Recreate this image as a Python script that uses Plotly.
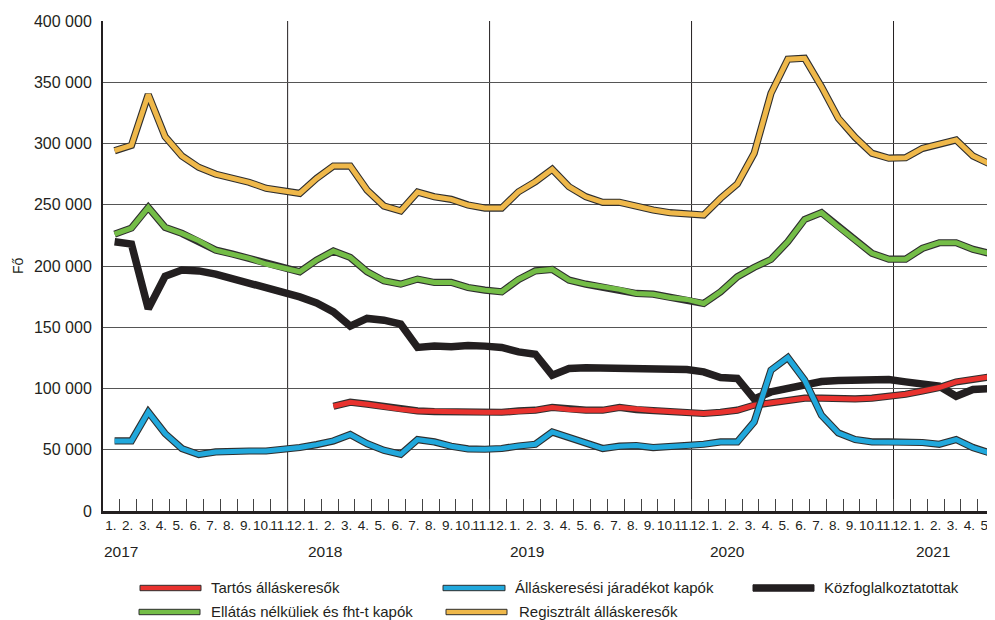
import plotly.graph_objects as go

# ---------------- data ----------------
month_labels = [f"{m}." for m in range(1, 13)] * 4 + [f"{m}." for m in range(1, 6)]
year_labels = ["2017", "2018", "2019", "2020", "2021"]
y_tick_values = [0, 50000, 100000, 150000, 200000, 250000, 300000, 350000, 400000]
y_tick_labels = ["0", "50 000", "100 000", "150 000", "200 000", "250 000", "300 000", "350 000", "400 000"]

regisztralt = [294100, 298500, 340000, 305600, 289800, 280500, 275000, 272000, 268300, 263400, 261000, 259300,
               271500, 281600, 281600, 262000, 249000, 245000, 260400, 256500, 254400, 249800, 247300, 247300,
               260600, 268800, 279000, 264700, 256500, 252000, 252000, 248400, 245700, 243500, 243000, 241600,
               255200, 267000, 292000, 341000, 368800, 369600, 346400, 320600, 305000, 292000, 288000, 288400,
               296000, 299600, 302900, 289800, 283300]
ellatas_nelkuliek = [226000, 231000, 247900, 231500, 226600, 220600, 213000, 209700, 206200, 201600, 198300, 195300,
                     204800, 212200, 207000, 195300, 187900, 185200, 189300, 186600, 186600, 182500, 180300, 178900,
                     189000, 196000, 197200, 188500, 185200, 183000, 180900, 177600, 177000, 174300, 172700, 169400,
                     178900, 191200, 198900, 205400, 219800, 238000, 243500, 232000, 221200, 210300, 205600, 205600,
                     214400, 219000, 219000, 213600, 210300]
kozfoglalkoztatottak = [219800, 217900, 165000, 191700, 196700, 196000, 193400, 189900, 185800, 182500, 178100, 174800,
                        169900, 162600, 150900, 157200, 155800, 152500, 133500, 134600, 134000, 135100, 134600, 133500,
                        129900, 128000, 110900, 116300, 116900, 116900, 115500, 115500, 116000, 116300, 115500, 113600,
                        109000, 108200, 91500, 97200, 100000, 102700, 105700, 106500, 106800, 107600, 107300, 105400,
                        102900, 101900, 93700, 99200, 100000]
tartos = [None] * 13 + [85500, 88800, 87200, 85000, 83100, 81700, 81200, 81000, 80600, 80600, 80600,
                        81700, 82300, 84500, 82800, 82300, 82300, 84500, 82800, 82000, 81200, 80100, 79600,
                        80600, 82300, 86400, 88600, 90400, 92100, 92100, 91500, 91500, 92100, 93200, 95300,
                        98000, 100800, 105400, 107800, 109500]
jaradek = [57200, 57200, 80900, 63200, 51000, 46100, 48200, 49000, 49000, 49000, 50100, 51800,
           54200, 57200, 62400, 55000, 49600, 46300, 58300, 56400, 52900, 50700, 50400, 51000,
           53100, 54500, 64500, 60000, 55600, 51000, 52900, 53400, 51800, 52300, 53400, 54500,
           56400, 56400, 72700, 115000, 125300, 106800, 78200, 63700, 58300, 56400, 56400, 56600,
           55900, 54500, 58300, 51800, 47400]

names = {
    "tartos": "Tartós álláskeresők",
    "jaradek": "Álláskeresési járadékot kapók",
    "kozf": "Közfoglalkoztatottak",
    "ellatas": "Ellátás nélküliek és fht-t kapók",
    "regisztralt": "Regisztrált álláskeresők",
}
colors = {
    "tartos": "#E8322E",
    "jaradek": "#21A8DC",
    "kozf": "#231F20",
    "ellatas": "#74BD47",
    "regisztralt": "#EFB84A",
}
series = {
    "tartos": tartos,
    "jaradek": jaradek,
    "kozf": kozfoglalkoztatottak,
    "ellatas": ellatas_nelkuliek,
    "regisztralt": regisztralt,
}

x = list(range(len(month_labels)))

# ---------------- layout geometry ----------------
OFF = 8                      # default page body margin around the figure
W, H = 995 - OFF, 620 - OFF
L, R, T, B = 103 - OFF, 1, 21 - OFF, 109
pw, ph = W - L - R, H - T - B


def px(xp):
    """page pixel x -> paper x"""
    return (xp - OFF - L) / pw


def py(yp):
    """page pixel y -> paper y"""
    return (OFF + H - B - yp) / ph


FONT = "Liberation Sans, Arial, sans-serif"
INK = "#231F20"
OUTLINE = "#2e2e2e"

fig = go.Figure()

for key in ["kozf", "tartos", "ellatas", "regisztralt", "jaradek"]:
    if key == "kozf":
        fig.add_trace(go.Scatter(x=x, y=series[key], mode="lines", name=names[key],
                                 line=dict(color=colors[key], width=7.5), showlegend=False,
                                 hoverinfo="skip"))
    else:
        fig.add_trace(go.Scatter(x=x, y=series[key], mode="lines", name=names[key] + " ",
                                 line=dict(color=OUTLINE, width=7.2), showlegend=False,
                                 hoverinfo="skip"))
        fig.add_trace(go.Scatter(x=x, y=series[key], mode="lines", name=names[key],
                                 line=dict(color=colors[key], width=5), showlegend=False))

shapes = []
# year separator gridlines
for k in range(4):
    xv = 10.28 + 12 * k
    shapes.append(dict(type="line", xref="x", yref="paper", x0=xv, x1=xv, y0=0, y1=1,
                       line=dict(color=INK, width=1), layer="below"))

# manual legend
legend_items = [
    ("tartos", 140, 201, 209, 587),
    ("jaradek", 443, 505, 513, 587),
    ("kozf", 753, 814, 822, 587),
    ("ellatas", 139, 200, 209, 611),
    ("regisztralt", 446, 507, 517, 611),
]
annotations = []
for key, x0, x1, xt, yc in legend_items:
    hh = 3.2 if key == "kozf" else 2.7
    shapes.append(dict(type="rect", xref="paper", yref="paper",
                       x0=px(x0), x1=px(x1), y0=py(yc + 1 + hh), y1=py(yc + 1 - hh),
                       fillcolor=colors[key],
                       line=dict(color=OUTLINE if key != "kozf" else colors[key], width=1)))
    annotations.append(dict(text=names[key], xref="paper", yref="paper", x=px(xt), y=py(yc),
                            xanchor="left", yanchor="middle", showarrow=False,
                            font=dict(family=FONT, size=15, color=INK)))

# year labels
year_pos = [0.4, 12.5, 24.5, 36.4, 48.6]
for lbl, xv in zip(year_labels, year_pos):
    annotations.append(dict(text=lbl, xref="x", yref="paper", x=xv, y=py(551.5),
                            xanchor="center", yanchor="middle", showarrow=False,
                            font=dict(family=FONT, size=15.5, color=INK)))

# y-axis title
annotations.append(dict(text="Fő", xref="paper", yref="paper", x=px(18), y=py(266),
                        xanchor="center", yanchor="middle", textangle=-90, showarrow=False,
                        font=dict(family=FONT, size=14, color=INK)))

fig.update_layout(
    width=W, height=H,
    margin=dict(l=L, r=R, t=T, b=B, autoexpand=False),
    paper_bgcolor="white", plot_bgcolor="white",
    font=dict(family=FONT, color=INK),
    showlegend=False,
    shapes=shapes,
    annotations=annotations,
    xaxis=dict(
        range=[-0.69, 52.25],
        tickmode="array",
        tickvals=[i - 0.22 for i in x],
        ticktext=month_labels,
        ticks="",
        tickangle=0,
        tickfont=dict(family=FONT, size=13.5, color=INK),
        showgrid=False, zeroline=False,
        showline=True, linecolor=INK, linewidth=3,
        minor=dict(tickmode="array", tickvals=[i + 0.28 for i in range(52)],
                   ticks="inside", ticklen=12, tickwidth=1, tickcolor="#444444", showgrid=False),
        automargin=False,
        fixedrange=True,
    ),
    yaxis=dict(
        range=[0, 400000],
        tickmode="array",
        tickvals=y_tick_values,
        ticktext=y_tick_labels,
        ticks="",
        ticklabelstandoff=6,
        tickfont=dict(family=FONT, size=16, color=INK),
        showgrid=True, gridcolor="#555555", gridwidth=1,
        zeroline=False,
        showline=True, linecolor=INK, linewidth=2,
        automargin=False,
        fixedrange=True,
    ),
)

fig.write_html("out.html")
